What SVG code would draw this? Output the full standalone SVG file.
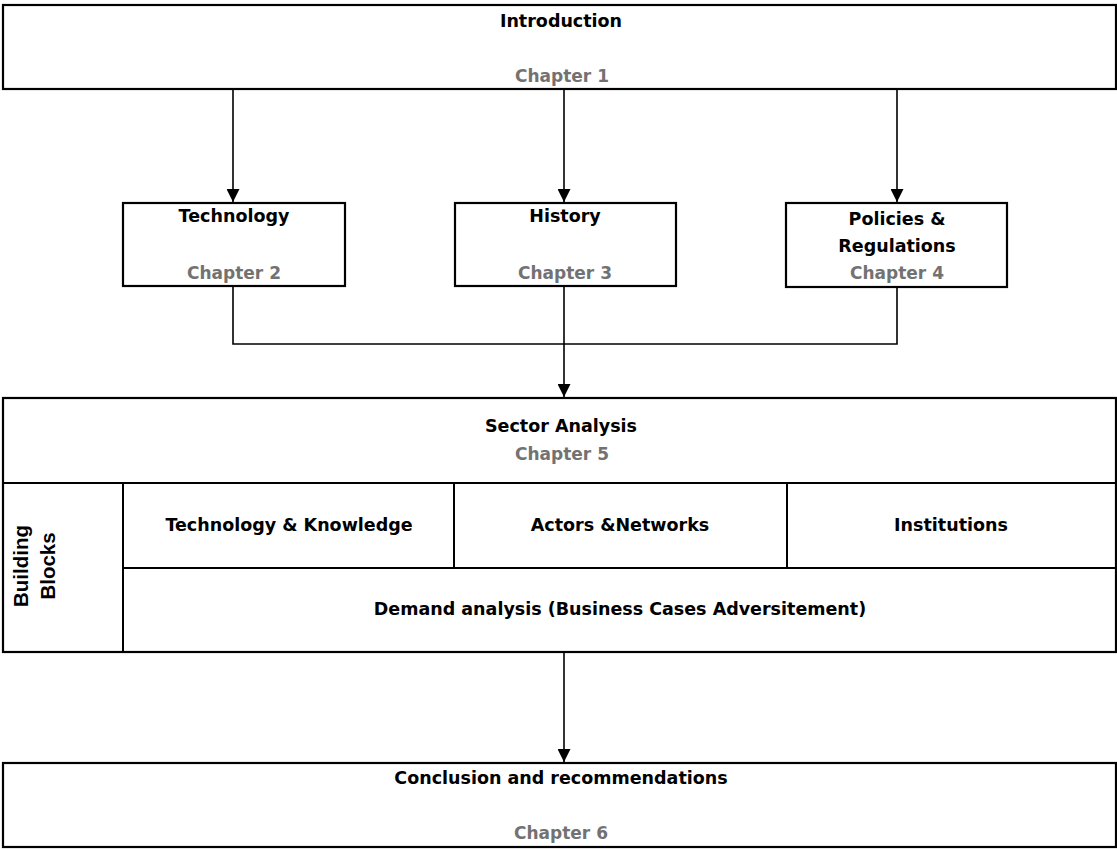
<svg xmlns="http://www.w3.org/2000/svg" width="1117" height="850" viewBox="0 0 1117 850">
<defs>
<style>
.box{fill:#fff;stroke:#000;stroke-width:2.2}
.div{stroke:#000;stroke-width:2;fill:none}
.con{stroke:#000;stroke-width:1.6;fill:none}
.t{font-family:"DejaVu Sans",Verdana,sans-serif;font-weight:bold;font-size:17.5px;fill:#000;text-anchor:middle}
.c{font-family:"DejaVu Sans",Verdana,sans-serif;font-weight:bold;font-size:17px;fill:#727272;text-anchor:middle}
.v{font-family:"Liberation Sans",Arial,sans-serif;font-weight:bold;font-size:20.5px;fill:#000;text-anchor:middle}
</style>
<marker id="ah" markerWidth="13" markerHeight="13" refX="13" refY="6.5" orient="auto" markerUnits="userSpaceOnUse">
<path d="M0,0 L13,6.5 L0,13 Z" fill="#000"/>
</marker>
</defs>
<rect width="1117" height="850" fill="#fff"/>
<g id="connectors">
<line class="con" x1="233" y1="89" x2="233" y2="202" marker-end="url(#ah)"/>
<line class="con" x1="564" y1="89" x2="564" y2="202" marker-end="url(#ah)"/>
<line class="con" x1="897" y1="89" x2="897" y2="202" marker-end="url(#ah)"/>
<polyline class="con" points="233,286 233,344 897,344 897,287"/>
<line class="con" x1="564" y1="286" x2="564" y2="397" marker-end="url(#ah)"/>
<line class="con" x1="564" y1="652" x2="564" y2="762" marker-end="url(#ah)"/>
</g>
<g id="intro">
<rect class="box" x="3" y="5" width="1113" height="84"/>
<text class="t" x="561" y="27">Introduction</text>
<text class="c" x="562" y="82">Chapter 1</text>
</g>
<g id="technology">
<rect class="box" x="123" y="203" width="222" height="83"/>
<text class="t" x="234" y="222">Technology</text>
<text class="c" x="234" y="279">Chapter 2</text>
</g>
<g id="history">
<rect class="box" x="455" y="203" width="221" height="83"/>
<text class="t" x="565" y="222">History</text>
<text class="c" x="565" y="279">Chapter 3</text>
</g>
<g id="policies">
<rect class="box" x="786" y="203" width="221" height="84"/>
<text class="t" x="897" y="225">Policies &amp;</text>
<text class="t" x="897" y="252">Regulations</text>
<text class="c" x="897" y="279">Chapter 4</text>
</g>
<g id="sector">
<rect class="box" x="3" y="398" width="1113" height="254"/>
<line class="div" x1="3" y1="483" x2="1116" y2="483"/>
<line class="div" x1="123" y1="483" x2="123" y2="652"/>
<line class="div" x1="123" y1="568" x2="1116" y2="568"/>
<line class="div" x1="454" y1="483" x2="454" y2="568"/>
<line class="div" x1="787" y1="483" x2="787" y2="568"/>
<text class="t" x="561" y="432">Sector Analysis</text>
<text class="c" x="562" y="460">Chapter 5</text>
</g>
<g id="building-blocks">
<text class="v" transform="translate(28,566) rotate(-90)">Building</text>
<text class="v" transform="translate(55,566) rotate(-90)">Blocks</text>
</g>
<g id="tech-knowledge"><text class="t" x="289" y="531">Technology &amp; Knowledge</text></g>
<g id="actors"><text class="t" x="620" y="531">Actors &amp;Networks</text></g>
<g id="institutions"><text class="t" x="951" y="531">Institutions</text></g>
<g id="demand"><text class="t" x="620" y="615">Demand analysis (Business Cases Adversitement)</text></g>
<g id="conclusion">
<rect class="box" x="3" y="763" width="1113" height="84"/>
<text class="t" x="561" y="784">Conclusion and recommendations</text>
<text class="c" x="561" y="839">Chapter 6</text>
</g>
</svg>
